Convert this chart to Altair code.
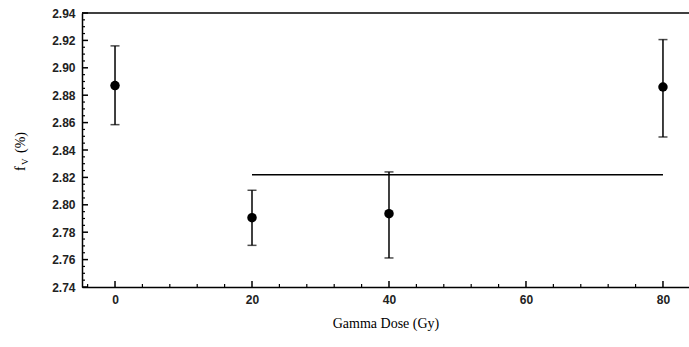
import altair as alt
import pandas as pd
import numpy as np

# data
dose = [0, 20, 40, 80]
fv = [2.887, 2.7906, 2.7935, 2.886]
fv_lo = [2.8585, 2.7704, 2.7612, 2.8495]
fv_hi = [2.9160, 2.8106, 2.8240, 2.9206]

line_x1 = [20]
line_x2 = [80]
line_y = [2.822]

x_major = [0, 20, 40, 60, 80]
x_minor = [-4, 4, 8, 12, 16, 24, 28, 32, 36, 44, 48, 52, 56, 64, 68, 72, 76]
y_major = [2.74, 2.76, 2.78, 2.80, 2.82, 2.84, 2.86, 2.88, 2.90, 2.92, 2.94]
y_minor = [2.745, 2.75, 2.755, 2.765, 2.77, 2.775, 2.785, 2.79, 2.795, 2.805, 2.81, 2.815,
           2.825, 2.83, 2.835, 2.845, 2.85, 2.855, 2.865, 2.87, 2.875, 2.885, 2.89, 2.895,
           2.905, 2.91, 2.915, 2.925, 2.93, 2.935]

W, H = 607, 274
XDOM = [-4.82, 83.8]
YDOM = [2.74, 2.94]

df = pd.DataFrame({"dose": dose, "fv": fv, "lo": fv_lo, "hi": fv_hi})
dline = pd.DataFrame({"x1": line_x1, "x2": line_x2, "y": line_y})

xs = alt.Scale(domain=XDOM, nice=False, zero=False)
ys = alt.Scale(domain=YDOM, nice=False, zero=False)

lab_font = "Liberation Sans"
title_font = "Liberation Serif"

xaxis = alt.Axis(values=x_major, format="d", ticks=False, grid=False, domainColor="black",
                 domainWidth=1.5, labelFont=lab_font, labelFontSize=12, labelFontWeight="bold",
                 labelColor="#222", labelPadding=7, labelOverlap=False, title="Gamma Dose (Gy)",
                 titleFont=title_font, titleFontSize=14, titleFontWeight="normal",
                 titleColor="black", titlePadding=11)
yaxis = alt.Axis(values=y_major, format=".2f", ticks=False, grid=False, domainColor="black",
                 domainWidth=1.5, labelFont=lab_font, labelFontSize=12, labelFontWeight="bold",
                 labelColor="#222", labelPadding=7, labelOverlap=False, title=None)

base = alt.Chart(df)

pts = base.mark_point(filled=True, size=90, color="black", opacity=1).encode(
    x=alt.X("dose:Q", scale=xs, axis=xaxis),
    y=alt.Y("fv:Q", scale=ys, axis=yaxis),
)
bars = base.mark_rule(color="black", strokeWidth=1.5).encode(
    x=alt.X("dose:Q", scale=xs, axis=xaxis), y=alt.Y("lo:Q", scale=ys, axis=yaxis), y2="hi:Q")
cap_lo = base.mark_tick(orient="horizontal", color="black", size=9, thickness=1.5).encode(
    x=alt.X("dose:Q", scale=xs, axis=xaxis), y=alt.Y("lo:Q", scale=ys, axis=yaxis))
cap_hi = base.mark_tick(orient="horizontal", color="black", size=9, thickness=1.5).encode(
    x=alt.X("dose:Q", scale=xs, axis=xaxis), y=alt.Y("hi:Q", scale=ys, axis=yaxis))

hline = alt.Chart(dline).mark_rule(color="black", strokeWidth=1.5).encode(
    x=alt.X("x1:Q", scale=xs, axis=xaxis), x2="x2:Q", y=alt.Y("y:Q", scale=ys, axis=yaxis))

top = alt.Chart(pd.DataFrame({"a": [0]})).mark_rule(color="black", strokeWidth=1.5).encode(
    x=alt.value(0), x2=alt.value(W), y=alt.value(0))

xmaj = alt.Chart(pd.DataFrame({"t": x_major})).mark_rule(color="black", strokeWidth=1.5).encode(
    x=alt.X("t:Q", scale=xs, axis=xaxis), y=alt.value(H), y2=alt.value(H - 6))
xmin = alt.Chart(pd.DataFrame({"t": x_minor})).mark_rule(color="black", strokeWidth=1.2).encode(
    x=alt.X("t:Q", scale=xs, axis=xaxis), y=alt.value(H), y2=alt.value(H - 3))
ymaj = alt.Chart(pd.DataFrame({"t": y_major})).mark_rule(color="black", strokeWidth=1.5).encode(
    y=alt.Y("t:Q", scale=ys, axis=yaxis), x=alt.value(0), x2=alt.value(6))
ymin = alt.Chart(pd.DataFrame({"t": y_minor})).mark_rule(color="black", strokeWidth=1.2).encode(
    y=alt.Y("t:Q", scale=ys, axis=yaxis), x=alt.value(0), x2=alt.value(3))

one = pd.DataFrame({"a": [0]})
t_f = alt.Chart(one).mark_text(text="f", angle=270, align="left", baseline="alphabetic",
                               font=title_font, fontSize=14, color="black").encode(
    x=alt.value(-57), y=alt.value(158))
t_v = alt.Chart(one).mark_text(text="V", angle=270, align="left", baseline="alphabetic",
                               font=title_font, fontSize=9, color="black").encode(
    x=alt.value(-54), y=alt.value(152))
t_p = alt.Chart(one).mark_text(text="(%)", angle=270, align="left", baseline="alphabetic",
                               font=title_font, fontSize=14, color="black").encode(
    x=alt.value(-57), y=alt.value(140))

chart = alt.layer(pts, bars, cap_lo, cap_hi, hline, top, xmaj, xmin, ymaj, ymin, t_f, t_v, t_p).properties(
    width=W, height=H, autosize=alt.AutoSizeParams(type="none"),
    padding={"left": 82, "top": 13, "right": 0, "bottom": 60},
    background="white",
).configure_view(stroke=None)

chart.save("out.html", embed_options={"renderer": "svg", "actions": False})
